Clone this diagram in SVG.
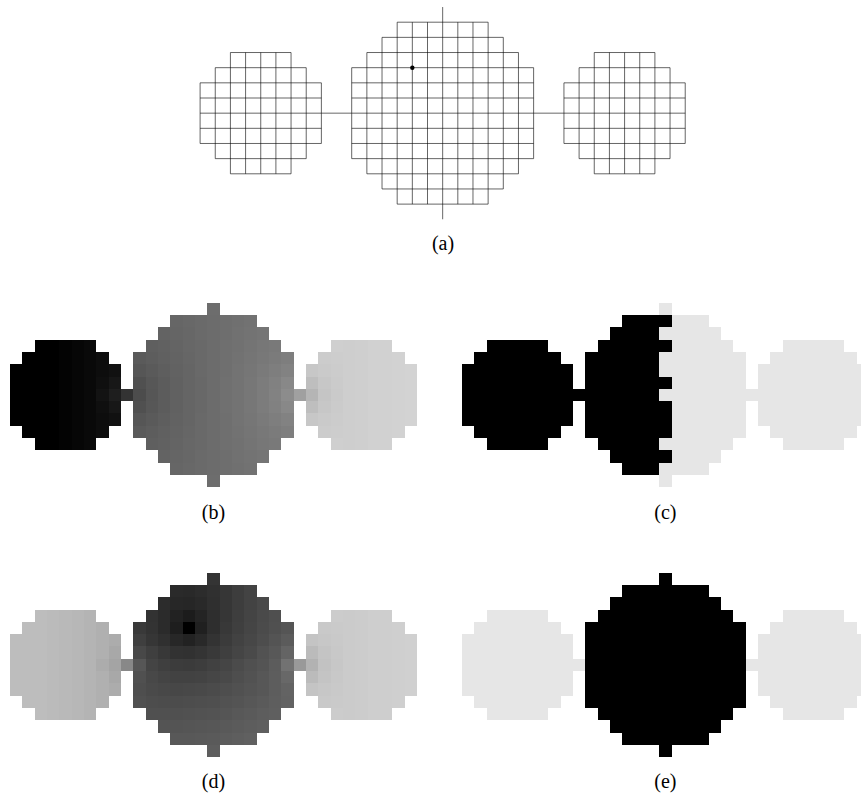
<svg xmlns="http://www.w3.org/2000/svg" width="861" height="793" viewBox="0 0 861 793">
<style>
.mesh{fill:none;stroke:#000;stroke-width:0.04}
.conn{fill:none;stroke:#000;stroke-width:0.6}
.px{shape-rendering:crispEdges}
.lbl{font-family:"Liberation Serif","Times New Roman",serif;font-size:20px;text-anchor:middle;fill:#000}
</style>
<defs>
<path id="sc" d="M2 0H7V1H8V2H9V7H8V8H7V9H2V8H1V7H0V2H1V1H2Z"/>
<path id="bc" d="M3 0H10V1H11V2H12V3H13V10H12V11H11V12H10V13H3V12H2V11H1V10H0V3H1V2H2V1H3Z"/>
<path id="smesh" d="M2 0H6M1 1H7M0 2H8M0 3H8M0 4H8M0 5H8M0 6H8M1 7H7M2 8H6M0 2V6M1 1V7M2 0V8M3 0V8M4 0V8M5 0V8M6 0V8M7 1V7M8 2V6"/>
<path id="bmesh" d="M3 0H9M2 1H10M1 2H11M0 3H12M0 4H12M0 5H12M0 6H12M0 7H12M0 8H12M0 9H12M1 10H11M2 11H10M3 12H9M0 3V9M1 2V10M2 1V11M3 0V12M4 0V12M5 0V12M7 0V12M8 0V12M9 0V12M10 1V11M11 2V10M12 3V9"/>
</defs>
<rect width="861" height="793" fill="#fff"/>

<!-- Panel (a) -->
<g id="a-left" transform="translate(200.1,52.52) scale(15.16)"><use href="#smesh" class="mesh"/></g>
<g id="a-mid" transform="translate(351.7,22.2) scale(15.16)"><use href="#bmesh" class="mesh"/></g>
<g id="a-right" transform="translate(563.94,52.52) scale(15.16)"><use href="#smesh" class="mesh"/></g>
<g id="a-connectors">
<path class="conn" d="M321.38 113.16H351.7M533.62 113.16H563.94M442.66 7.04V219.28"/>
</g>
<g id="a-source"><circle cx="412.34" cy="67.68" r="2.2" fill="#000"/></g>
<text class="lbl" x="443" y="250">(a)</text>

<!-- Panel (b) -->
<g id="panel-b" class="px" transform="translate(10,314.85) scale(12.33)">
<g id="b-left" transform="translate(0,2)">
<use href="#sc" fill="#000"/>
<rect x="4" y="0" width="1" height="9" fill="#030303"/>
<rect x="5" y="0" width="1" height="9" fill="#060606"/>
<rect x="6" y="0" width="1" height="9" fill="#090909"/>
<rect x="7" y="1" width="1" height="7" fill="#0d0d0d"/>
<rect x="8" y="2" width="1" height="5" fill="#111111"/>
<rect x="7" y="3" width="1" height="3" fill="#0f0f0f"/>
<rect x="7" y="4" width="1" height="1" fill="#131313"/>
<rect x="8" y="3" width="1" height="3" fill="#171717"/>
<rect x="8" y="4" width="1" height="1" fill="#1e1e1e"/>
</g>
<g id="b-mid" transform="translate(10,0)">
<use href="#bc" fill="#6c6c6c"/>
<rect x="6" y="-1" width="1" height="1" fill="#6d6d6d"/>
<rect x="6" y="13" width="1" height="1" fill="#6d6d6d"/>
<g id="bmt">
<rect x="3" y="0" width="1" height="1" fill="#666666"/><rect x="4" y="0" width="1" height="1" fill="#686868"/><rect x="5" y="0" width="1" height="1" fill="#6a6a6a"/><rect x="6" y="0" width="1" height="1" fill="#6c6c6c"/><rect x="7" y="0" width="1" height="1" fill="#6e6e6e"/><rect x="8" y="0" width="1" height="1" fill="#707070"/><rect x="9" y="0" width="1" height="1" fill="#727272"/>
<rect x="2" y="1" width="1" height="1" fill="#636363"/><rect x="3" y="1" width="1" height="1" fill="#656565"/><rect x="4" y="1" width="1" height="1" fill="#676767"/><rect x="5" y="1" width="1" height="1" fill="#6a6a6a"/><rect x="6" y="1" width="1" height="1" fill="#6c6c6c"/><rect x="7" y="1" width="1" height="1" fill="#6e6e6e"/><rect x="8" y="1" width="1" height="1" fill="#717171"/><rect x="9" y="1" width="1" height="1" fill="#737373"/><rect x="10" y="1" width="1" height="1" fill="#757575"/>
<rect x="1" y="2" width="1" height="1" fill="#5f5f5f"/><rect x="2" y="2" width="1" height="1" fill="#616161"/><rect x="3" y="2" width="1" height="1" fill="#646464"/><rect x="4" y="2" width="1" height="1" fill="#676767"/><rect x="5" y="2" width="1" height="1" fill="#696969"/><rect x="6" y="2" width="1" height="1" fill="#6c6c6c"/><rect x="7" y="2" width="1" height="1" fill="#6f6f6f"/><rect x="8" y="2" width="1" height="1" fill="#717171"/><rect x="9" y="2" width="1" height="1" fill="#747474"/><rect x="10" y="2" width="1" height="1" fill="#777777"/><rect x="11" y="2" width="1" height="1" fill="#797979"/>
<rect x="0" y="3" width="1" height="1" fill="#5a5a5a"/><rect x="1" y="3" width="1" height="1" fill="#5d5d5d"/><rect x="2" y="3" width="1" height="1" fill="#606060"/><rect x="3" y="3" width="1" height="1" fill="#636363"/><rect x="4" y="3" width="1" height="1" fill="#666666"/><rect x="5" y="3" width="1" height="1" fill="#696969"/><rect x="6" y="3" width="1" height="1" fill="#6c6c6c"/><rect x="7" y="3" width="1" height="1" fill="#6f6f6f"/><rect x="8" y="3" width="1" height="1" fill="#727272"/><rect x="9" y="3" width="1" height="1" fill="#757575"/><rect x="10" y="3" width="1" height="1" fill="#787878"/><rect x="11" y="3" width="1" height="1" fill="#7b7b7b"/><rect x="12" y="3" width="1" height="1" fill="#7e7e7e"/>
<rect x="0" y="4" width="1" height="1" fill="#565656"/><rect x="1" y="4" width="1" height="1" fill="#5a5a5a"/><rect x="2" y="4" width="1" height="1" fill="#5e5e5e"/><rect x="3" y="4" width="1" height="1" fill="#626262"/><rect x="4" y="4" width="1" height="1" fill="#656565"/><rect x="5" y="4" width="1" height="1" fill="#696969"/><rect x="6" y="4" width="1" height="1" fill="#6c6c6c"/><rect x="7" y="4" width="1" height="1" fill="#6f6f6f"/><rect x="8" y="4" width="1" height="1" fill="#737373"/><rect x="9" y="4" width="1" height="1" fill="#767676"/><rect x="10" y="4" width="1" height="1" fill="#7a7a7a"/><rect x="11" y="4" width="1" height="1" fill="#7e7e7e"/><rect x="12" y="4" width="1" height="1" fill="#828282"/>
<rect x="0" y="5" width="1" height="1" fill="#505050"/><rect x="1" y="5" width="1" height="1" fill="#575757"/><rect x="2" y="5" width="1" height="1" fill="#5c5c5c"/><rect x="3" y="5" width="1" height="1" fill="#616161"/><rect x="4" y="5" width="1" height="1" fill="#656565"/><rect x="5" y="5" width="1" height="1" fill="#686868"/><rect x="6" y="5" width="1" height="1" fill="#6c6c6c"/><rect x="7" y="5" width="1" height="1" fill="#707070"/><rect x="8" y="5" width="1" height="1" fill="#737373"/><rect x="9" y="5" width="1" height="1" fill="#777777"/><rect x="10" y="5" width="1" height="1" fill="#7c7c7c"/><rect x="11" y="5" width="1" height="1" fill="#818181"/><rect x="12" y="5" width="1" height="1" fill="#888888"/>
</g>
<rect x="0" y="6" width="1" height="1" fill="#4c4c4c"/><rect x="1" y="6" width="1" height="1" fill="#565656"/><rect x="2" y="6" width="1" height="1" fill="#5c5c5c"/><rect x="3" y="6" width="1" height="1" fill="#616161"/><rect x="4" y="6" width="1" height="1" fill="#656565"/><rect x="5" y="6" width="1" height="1" fill="#686868"/><rect x="6" y="6" width="1" height="1" fill="#6c6c6c"/><rect x="7" y="6" width="1" height="1" fill="#707070"/><rect x="8" y="6" width="1" height="1" fill="#737373"/><rect x="9" y="6" width="1" height="1" fill="#777777"/><rect x="10" y="6" width="1" height="1" fill="#7c7c7c"/><rect x="11" y="6" width="1" height="1" fill="#828282"/><rect x="12" y="6" width="1" height="1" fill="#8c8c8c"/>
<use href="#bmt" transform="translate(0,13) scale(1,-1)"/>
</g>
<g id="b-right" transform="translate(24,2)">
<use href="#sc" fill="#d1d1d1"/>
<rect x="3" y="0" width="1" height="9" fill="#cecece"/>
<rect x="4" y="0" width="1" height="9" fill="#cfcfcf"/>
<rect x="7" y="1" width="1" height="7" fill="#d2d2d2"/>
<rect x="8" y="2" width="1" height="5" fill="#d3d3d3"/>
<rect x="0" y="2" width="1" height="1" fill="#c7c7c7"/><rect x="0" y="3" width="1" height="1" fill="#bebebe"/><rect x="0" y="4" width="1" height="1" fill="#b5b5b5"/><rect x="0" y="5" width="1" height="1" fill="#bebebe"/><rect x="0" y="6" width="1" height="1" fill="#c7c7c7"/>
<rect x="1" y="1" width="1" height="1" fill="#cccccc"/><rect x="1" y="2" width="1" height="1" fill="#cacaca"/><rect x="1" y="3" width="1" height="1" fill="#c7c7c7"/><rect x="1" y="4" width="1" height="1" fill="#c5c5c5"/><rect x="1" y="5" width="1" height="1" fill="#c7c7c7"/><rect x="1" y="6" width="1" height="1" fill="#cacaca"/><rect x="1" y="7" width="1" height="1" fill="#cccccc"/>
<rect x="2" y="0" width="1" height="1" fill="#cfcfcf"/><rect x="2" y="1" width="1" height="1" fill="#cdcdcd"/><rect x="2" y="2" width="1" height="1" fill="#cccccc"/><rect x="2" y="3" width="1" height="1" fill="#cbcbcb"/><rect x="2" y="4" width="1" height="1" fill="#cacaca"/><rect x="2" y="5" width="1" height="1" fill="#cbcbcb"/><rect x="2" y="6" width="1" height="1" fill="#cccccc"/><rect x="2" y="7" width="1" height="1" fill="#cdcdcd"/><rect x="2" y="8" width="1" height="1" fill="#cfcfcf"/>
</g>
<g id="b-connectors">
<rect x="9" y="6" width="1" height="1" fill="#333333"/>
<rect x="23" y="6" width="1" height="1" fill="#a0a0a0"/>
</g>
</g>
<text class="lbl" x="213.4" y="519">(b)</text>

<!-- Panel (c) -->
<g id="panel-c" class="px" transform="translate(462,314.85) scale(12.33)">
<g id="c-left"><use href="#sc" y="2" fill="#000"/></g>
<g id="c-mid" transform="translate(10,0)">
<use href="#bc" fill="#e6e6e6"/>
<rect x="6" y="-1" width="1" height="1" fill="#e6e6e6"/>
<rect x="6" y="13" width="1" height="1" fill="#e6e6e6"/>
<path d="M0 3H1V2H2V1H3V0H6V13H3V12H2V11H1V10H0Z" fill="#000"/>
<rect x="6" y="0" width="1" height="1" fill="#000"/>
<rect x="6" y="2" width="1" height="1" fill="#000"/>
<rect x="6" y="5" width="1" height="1" fill="#000"/>
<rect x="6" y="7" width="1" height="3" fill="#000"/>
<rect x="6" y="11" width="1" height="1" fill="#000"/>
</g>
<g id="c-right"><use href="#sc" x="24" y="2" fill="#e6e6e6"/></g>
<g id="c-connectors">
<rect x="9" y="6" width="1" height="1" fill="#000"/>
<rect x="23" y="6" width="1" height="1" fill="#e6e6e6"/>
</g>
</g>
<text class="lbl" x="665.4" y="519">(c)</text>

<!-- Panel (d) -->
<g id="panel-d" class="px" transform="translate(10,584.85) scale(12.33)">
<g id="d-left" transform="translate(0,2)">
<use href="#sc" fill="#bdbdbd"/>
<rect x="3" y="0" width="1" height="9" fill="#bbbbbb"/>
<rect x="4" y="0" width="1" height="9" fill="#b9b9b9"/>
<rect x="5" y="0" width="1" height="9" fill="#b7b7b7"/>
<rect x="6" y="0" width="1" height="9" fill="#b4b4b4"/>
<rect x="7" y="1" width="1" height="7" fill="#b0b0b0"/>
<rect x="8" y="2" width="1" height="5" fill="#acacac"/>
<rect x="8" y="3" width="1" height="3" fill="#a8a8a8"/>
<rect x="8" y="4" width="1" height="1" fill="#a4a4a4"/>
<rect x="7" y="4" width="1" height="1" fill="#acacac"/>
</g>
<g id="d-mid" transform="translate(10,0)">
<use href="#bc" fill="#4e4e4e"/>
<rect x="6" y="-1" width="1" height="1" fill="#343434"/>
<rect x="6" y="13" width="1" height="1" fill="#5d5d5d"/>
<rect x="3" y="0" width="1" height="1" fill="#2a2a2a"/><rect x="4" y="0" width="1" height="1" fill="#292929"/><rect x="5" y="0" width="1" height="1" fill="#2c2c2c"/><rect x="6" y="0" width="1" height="1" fill="#303030"/><rect x="7" y="0" width="1" height="1" fill="#363636"/><rect x="8" y="0" width="1" height="1" fill="#3d3d3d"/><rect x="9" y="0" width="1" height="1" fill="#434343"/>
<rect x="2" y="1" width="1" height="1" fill="#2c2c2c"/><rect x="3" y="1" width="1" height="1" fill="#272727"/><rect x="4" y="1" width="1" height="1" fill="#262626"/><rect x="5" y="1" width="1" height="1" fill="#292929"/><rect x="6" y="1" width="1" height="1" fill="#2f2f2f"/><rect x="7" y="1" width="1" height="1" fill="#363636"/><rect x="8" y="1" width="1" height="1" fill="#3d3d3d"/><rect x="9" y="1" width="1" height="1" fill="#434343"/><rect x="10" y="1" width="1" height="1" fill="#494949"/>
<rect x="1" y="2" width="1" height="1" fill="#323232"/><rect x="2" y="2" width="1" height="1" fill="#2b2b2b"/><rect x="3" y="2" width="1" height="1" fill="#222222"/><rect x="4" y="2" width="1" height="1" fill="#1c1c1c"/><rect x="5" y="2" width="1" height="1" fill="#242424"/><rect x="6" y="2" width="1" height="1" fill="#2e2e2e"/><rect x="7" y="2" width="1" height="1" fill="#363636"/><rect x="8" y="2" width="1" height="1" fill="#3e3e3e"/><rect x="9" y="2" width="1" height="1" fill="#444444"/><rect x="10" y="2" width="1" height="1" fill="#4a4a4a"/><rect x="11" y="2" width="1" height="1" fill="#4f4f4f"/>
<rect x="0" y="3" width="1" height="1" fill="#393939"/><rect x="1" y="3" width="1" height="1" fill="#333333"/><rect x="2" y="3" width="1" height="1" fill="#2b2b2b"/><rect x="3" y="3" width="1" height="1" fill="#1e1e1e"/><rect x="4" y="3" width="1" height="1" fill="#000000"/><rect x="5" y="3" width="1" height="1" fill="#202020"/><rect x="6" y="3" width="1" height="1" fill="#2e2e2e"/><rect x="7" y="3" width="1" height="1" fill="#383838"/><rect x="8" y="3" width="1" height="1" fill="#3f3f3f"/><rect x="9" y="3" width="1" height="1" fill="#454545"/><rect x="10" y="3" width="1" height="1" fill="#4b4b4b"/><rect x="11" y="3" width="1" height="1" fill="#505050"/><rect x="12" y="3" width="1" height="1" fill="#555555"/>
<rect x="0" y="4" width="1" height="1" fill="#3f3f3f"/><rect x="1" y="4" width="1" height="1" fill="#363636"/><rect x="2" y="4" width="1" height="1" fill="#303030"/><rect x="3" y="4" width="1" height="1" fill="#272727"/><rect x="4" y="4" width="1" height="1" fill="#222222"/><rect x="5" y="4" width="1" height="1" fill="#292929"/><rect x="6" y="4" width="1" height="1" fill="#333333"/><rect x="7" y="4" width="1" height="1" fill="#3b3b3b"/><rect x="8" y="4" width="1" height="1" fill="#424242"/><rect x="9" y="4" width="1" height="1" fill="#474747"/><rect x="10" y="4" width="1" height="1" fill="#4d4d4d"/><rect x="11" y="4" width="1" height="1" fill="#545454"/><rect x="12" y="4" width="1" height="1" fill="#5b5b5b"/>
<rect x="0" y="5" width="1" height="1" fill="#484848"/><rect x="1" y="5" width="1" height="1" fill="#3f3f3f"/><rect x="2" y="5" width="1" height="1" fill="#383838"/><rect x="3" y="5" width="1" height="1" fill="#323232"/><rect x="4" y="5" width="1" height="1" fill="#313131"/><rect x="5" y="5" width="1" height="1" fill="#343434"/><rect x="6" y="5" width="1" height="1" fill="#393939"/><rect x="7" y="5" width="1" height="1" fill="#3f3f3f"/><rect x="8" y="5" width="1" height="1" fill="#454545"/><rect x="9" y="5" width="1" height="1" fill="#4a4a4a"/><rect x="10" y="5" width="1" height="1" fill="#525252"/><rect x="11" y="5" width="1" height="1" fill="#585858"/><rect x="12" y="5" width="1" height="1" fill="#646464"/>
<rect x="0" y="6" width="1" height="1" fill="#565656"/><rect x="1" y="6" width="1" height="1" fill="#444444"/><rect x="2" y="6" width="1" height="1" fill="#3f3f3f"/><rect x="3" y="6" width="1" height="1" fill="#3c3c3c"/><rect x="4" y="6" width="1" height="1" fill="#3b3b3b"/><rect x="5" y="6" width="1" height="1" fill="#3d3d3d"/><rect x="6" y="6" width="1" height="1" fill="#414141"/><rect x="7" y="6" width="1" height="1" fill="#454545"/><rect x="8" y="6" width="1" height="1" fill="#4b4b4b"/><rect x="9" y="6" width="1" height="1" fill="#505050"/><rect x="10" y="6" width="1" height="1" fill="#545454"/><rect x="11" y="6" width="1" height="1" fill="#5c5c5c"/><rect x="12" y="6" width="1" height="1" fill="#727272"/>
<rect x="0" y="7" width="1" height="1" fill="#505050"/><rect x="1" y="7" width="1" height="1" fill="#484848"/><rect x="2" y="7" width="1" height="1" fill="#444444"/><rect x="3" y="7" width="1" height="1" fill="#424242"/><rect x="4" y="7" width="1" height="1" fill="#424242"/><rect x="5" y="7" width="1" height="1" fill="#434343"/><rect x="6" y="7" width="1" height="1" fill="#464646"/><rect x="7" y="7" width="1" height="1" fill="#494949"/><rect x="8" y="7" width="1" height="1" fill="#4e4e4e"/><rect x="9" y="7" width="1" height="1" fill="#525252"/><rect x="10" y="7" width="1" height="1" fill="#575757"/><rect x="11" y="7" width="1" height="1" fill="#5d5d5d"/><rect x="12" y="7" width="1" height="1" fill="#686868"/>
<rect x="0" y="8" width="1" height="1" fill="#4e4e4e"/><rect x="1" y="8" width="1" height="1" fill="#4a4a4a"/><rect x="2" y="8" width="1" height="1" fill="#484848"/><rect x="3" y="8" width="1" height="1" fill="#474747"/><rect x="4" y="8" width="1" height="1" fill="#484848"/><rect x="5" y="8" width="1" height="1" fill="#494949"/><rect x="6" y="8" width="1" height="1" fill="#4b4b4b"/><rect x="7" y="8" width="1" height="1" fill="#4e4e4e"/><rect x="8" y="8" width="1" height="1" fill="#515151"/><rect x="9" y="8" width="1" height="1" fill="#545454"/><rect x="10" y="8" width="1" height="1" fill="#575757"/><rect x="11" y="8" width="1" height="1" fill="#5d5d5d"/><rect x="12" y="8" width="1" height="1" fill="#636363"/>
<rect x="0" y="9" width="1" height="1" fill="#505050"/><rect x="1" y="9" width="1" height="1" fill="#4d4d4d"/><rect x="2" y="9" width="1" height="1" fill="#4c4c4c"/><rect x="3" y="9" width="1" height="1" fill="#4c4c4c"/><rect x="4" y="9" width="1" height="1" fill="#4d4d4d"/><rect x="5" y="9" width="1" height="1" fill="#4e4e4e"/><rect x="6" y="9" width="1" height="1" fill="#4f4f4f"/><rect x="7" y="9" width="1" height="1" fill="#525252"/><rect x="8" y="9" width="1" height="1" fill="#545454"/><rect x="9" y="9" width="1" height="1" fill="#575757"/><rect x="10" y="9" width="1" height="1" fill="#5a5a5a"/><rect x="11" y="9" width="1" height="1" fill="#5e5e5e"/><rect x="12" y="9" width="1" height="1" fill="#626262"/>
<rect x="1" y="10" width="1" height="1" fill="#505050"/><rect x="2" y="10" width="1" height="1" fill="#505050"/><rect x="3" y="10" width="1" height="1" fill="#505050"/><rect x="4" y="10" width="1" height="1" fill="#515151"/><rect x="5" y="10" width="1" height="1" fill="#525252"/><rect x="6" y="10" width="1" height="1" fill="#535353"/><rect x="7" y="10" width="1" height="1" fill="#555555"/><rect x="8" y="10" width="1" height="1" fill="#585858"/><rect x="9" y="10" width="1" height="1" fill="#5a5a5a"/><rect x="10" y="10" width="1" height="1" fill="#5d5d5d"/><rect x="11" y="10" width="1" height="1" fill="#5f5f5f"/>
<rect x="2" y="11" width="1" height="1" fill="#545454"/><rect x="3" y="11" width="1" height="1" fill="#545454"/><rect x="4" y="11" width="1" height="1" fill="#555555"/><rect x="5" y="11" width="1" height="1" fill="#565656"/><rect x="6" y="11" width="1" height="1" fill="#575757"/><rect x="7" y="11" width="1" height="1" fill="#595959"/><rect x="8" y="11" width="1" height="1" fill="#5b5b5b"/><rect x="9" y="11" width="1" height="1" fill="#5d5d5d"/><rect x="10" y="11" width="1" height="1" fill="#5f5f5f"/>
<rect x="3" y="12" width="1" height="1" fill="#585858"/><rect x="4" y="12" width="1" height="1" fill="#585858"/><rect x="5" y="12" width="1" height="1" fill="#595959"/><rect x="6" y="12" width="1" height="1" fill="#5a5a5a"/><rect x="7" y="12" width="1" height="1" fill="#5c5c5c"/><rect x="8" y="12" width="1" height="1" fill="#5e5e5e"/><rect x="9" y="12" width="1" height="1" fill="#606060"/>
</g>
<g id="d-right" transform="translate(24,2)">
<use href="#sc" fill="#cecece"/>
<rect x="3" y="0" width="1" height="9" fill="#cbcbcb"/>
<rect x="4" y="0" width="1" height="9" fill="#cccccc"/>
<rect x="7" y="1" width="1" height="7" fill="#cfcfcf"/>
<rect x="8" y="2" width="1" height="5" fill="#d0d0d0"/>
<rect x="0" y="2" width="1" height="1" fill="#c4c4c4"/><rect x="0" y="3" width="1" height="1" fill="#bbbbbb"/><rect x="0" y="4" width="1" height="1" fill="#b2b2b2"/><rect x="0" y="5" width="1" height="1" fill="#bbbbbb"/><rect x="0" y="6" width="1" height="1" fill="#c4c4c4"/>
<rect x="1" y="1" width="1" height="1" fill="#c9c9c9"/><rect x="1" y="2" width="1" height="1" fill="#c7c7c7"/><rect x="1" y="3" width="1" height="1" fill="#c4c4c4"/><rect x="1" y="4" width="1" height="1" fill="#c2c2c2"/><rect x="1" y="5" width="1" height="1" fill="#c4c4c4"/><rect x="1" y="6" width="1" height="1" fill="#c7c7c7"/><rect x="1" y="7" width="1" height="1" fill="#c9c9c9"/>
<rect x="2" y="0" width="1" height="1" fill="#cccccc"/><rect x="2" y="1" width="1" height="1" fill="#cacaca"/><rect x="2" y="2" width="1" height="1" fill="#c9c9c9"/><rect x="2" y="3" width="1" height="1" fill="#c8c8c8"/><rect x="2" y="4" width="1" height="1" fill="#c7c7c7"/><rect x="2" y="5" width="1" height="1" fill="#c8c8c8"/><rect x="2" y="6" width="1" height="1" fill="#c9c9c9"/><rect x="2" y="7" width="1" height="1" fill="#cacaca"/><rect x="2" y="8" width="1" height="1" fill="#cccccc"/>
</g>
<g id="d-connectors">
<rect x="9" y="6" width="1" height="1" fill="#888888"/>
<rect x="23" y="6" width="1" height="1" fill="#999999"/>
</g>
</g>
<text class="lbl" x="213.4" y="788">(d)</text>

<!-- Panel (e) -->
<g id="panel-e" class="px" transform="translate(462,584.85) scale(12.33)">
<g id="e-left"><use href="#sc" y="2" fill="#e6e6e6"/></g>
<g id="e-mid" transform="translate(10,0)">
<use href="#bc" fill="#000"/>
<rect x="6" y="-1" width="1" height="1" fill="#000"/>
<rect x="6" y="13" width="1" height="1" fill="#000"/>
</g>
<g id="e-right"><use href="#sc" x="24" y="2" fill="#e6e6e6"/></g>
<g id="e-connectors">
<rect x="9" y="6" width="1" height="1" fill="#e6e6e6"/>
<rect x="23" y="6" width="1" height="1" fill="#e6e6e6"/>
</g>
</g>
<text class="lbl" x="665.4" y="788">(e)</text>
</svg>
